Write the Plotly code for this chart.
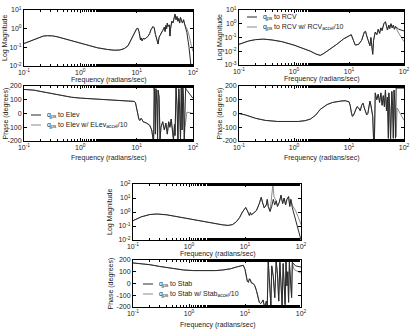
import plotly.graph_objects as go

W, H = 412, 335

# ---------------- data ----------------
# Elevator: magnitude
elev_mag_f = [0.1, 0.13, 0.17, 0.22, 0.26, 0.32, 0.4, 0.5, 0.7, 1.0, 1.5, 2.0, 3.0, 4.0, 5.0, 6.0, 7.0, 8.0, 9.0, 10.0,
              10.5, 11.0, 11.7, 12.0, 12.5, 13, 14, 15, 16, 17, 18, 19.5, 20.5, 21.5, 23, 24, 25, 27, 29, 31, 32, 33,
              34, 35, 36, 38, 39, 40, 42, 44, 46, 48, 50, 52, 54, 56, 58, 60, 62, 65, 68, 72]
elev_mag = [0.16, 0.22, 0.32, 0.40, 0.42, 0.41, 0.36, 0.30, 0.22, 0.16, 0.12, 0.095, 0.077, 0.07, 0.072, 0.085, 0.12,
            0.25, 0.55, 1.0, 1.05, 0.7, 0.25, 0.32, 0.22, 0.30, 0.28, 0.33, 0.40, 0.55, 0.90, 1.3, 1.1, 0.5, 0.18,
            0.15, 0.35, 0.5, 0.8, 1.2, 0.7, 1.5, 1.0, 2.0, 1.3, 1.6, 0.4, 1.0, 2.5, 2.0, 3.5, 6.0, 3.0, 4.5, 2.5,
            3.5, 2.0, 4.0, 3.0, 2.0, 3.0, 1.5]
elev_mag_tail1_f = [78, 85, 92]
elev_mag_tail1 = [0.6, 0.1, 0.01]
elev_mag_tail2_f = [78, 85, 92, 100]
elev_mag_tail2 = [1.0, 0.45, 0.15, 0.06]

# Elevator: phase
elev_ph_f = [0.1, 0.15, 0.2, 0.3, 0.5, 0.7, 1.0, 2.0, 4.0, 7.0, 9.0, 9.5, 10.0, 10.5, 11.0, 11.5, 12.0, 12.5, 13, 14,
             15, 17, 18.5, 19.5, 20, 20.5, 21, 21.5, 22, 23, 23.5, 24, 25, 26, 27, 29, 31, 33, 35, 37, 39, 41, 43,
             45, 47, 48, 50, 52, 54, 56, 58, 60, 62, 64, 66, 68, 70]
elev_ph = [175, 170, 160, 145, 128, 118, 112, 104, 98, 92, 88, 80, 40, -20, -45, -50, -35, -45, -60, -65, -70, -85,
           -120, -185, -195, 185, 120, -150, 180, 60, -195, 170, 120, -190, -100, -60, -120, -70, -150, -60, -100,
           -40, -130, -190, -80, -160, 190, 60, -190, 180, 40, -190, 185, -120, 190, 100, -190]
elev_ph_tail1_f = [74, 76, 100]
elev_ph_tail1 = [185, 175, 110]
elev_ph_tail2_f = [72, 78, 100]
elev_ph_tail2 = [-100, 10, 0]

# RCV: magnitude
rcv_mag_f = [0.1, 0.15, 0.2, 0.28, 0.4, 0.6, 1.0, 1.5, 2.0, 2.5, 3.0, 3.5, 4.5, 6, 8, 10, 11, 12, 13, 15, 17, 19, 20,
             21, 23, 24, 25, 26, 27, 28, 30, 32, 34, 36, 38, 40, 43, 46, 48, 50, 53, 55, 58, 61, 64, 67, 70]
rcv_mag = [0.032, 0.056, 0.07, 0.076, 0.066, 0.05, 0.028, 0.016, 0.01, 0.0063, 0.005, 0.007, 0.014, 0.032, 0.08,
           0.14, 0.16, 0.063, 0.028, 0.032, 0.063, 0.25, 0.28, 0.13, 0.04, 0.025, 0.1, 0.032, 0.006, 0.063, 0.25,
           0.16, 0.4, 0.2, 0.5, 0.32, 1.0, 1.4, 0.63, 0.35, 0.8, 0.45, 1.0, 0.5, 0.8, 0.4, 0.63]
rcv_mag_tail1_f = [80, 100]
rcv_mag_tail1 = [0.4, 0.3]
rcv_mag_tail2_f = [80, 90, 100]
rcv_mag_tail2 = [0.2, 0.1, 0.05]

# RCV: phase
rcv_ph_f = [0.1, 0.13, 0.2, 0.3, 0.5, 0.8, 1.2, 1.6, 2.0, 2.5, 3.0, 4.0, 5.0, 7.0, 8.5, 10, 10.5, 11, 11.5, 12, 13, 14,
            15, 16, 17, 18, 19, 20, 21, 22, 23, 24, 25, 26, 27, 28, 29, 30, 32, 34, 36, 38, 40, 42, 44, 46, 48, 50,
            52, 53, 55, 57, 58, 60, 62, 64, 66, 68]
rcv_ph = [0, -10, -35, -50, -58, -60, -58, -52, -40, -10, 30, 65, 80, 90, 93, 85, 60, 10, -20, -15, 20, 50, 40, 20,
          60, 75, 40, 10, -10, 0, 50, 90, 60, 20, -20, -190, -185, 150, 100, 140, 80, 150, 60, 130, 50, 170, 20, 120,
          -180, 150, 40, -185, 100, 160, 60, -180, 170, 80]
rcv_ph_tail1_f = [70, 72, 100]
rcv_ph_tail1 = [-180, 185, 185]
rcv_ph_tail2_f = [72, 75, 100]
rcv_ph_tail2 = [-170, 40, -50]

# Stabilator: magnitude
stab_mag_f = [0.1, 0.14, 0.2, 0.27, 0.4, 0.6, 1.0, 1.5, 2.5, 4.0, 5.0, 6.0, 7.0, 8.0, 9.0, 10.3, 11.0, 12.0, 12.5, 13,
              14, 16, 18, 19.5, 20.5, 22, 24, 25, 26, 28]
stab_mag = [0.24, 0.45, 0.66, 0.72, 0.63, 0.47, 0.32, 0.22, 0.15, 0.12, 0.11, 0.126, 0.2, 0.4, 1.0, 2.1, 1.26, 0.56,
            0.9, 0.63, 0.8, 1.26, 4.0, 11.2, 5.0, 2.0, 3.2, 8, 2.5, 1.1]
stab_mag_mid1_f = [30, 32, 34, 36, 38, 41, 44, 47, 50, 53, 56, 60, 63, 66, 70]
stab_mag_mid1 = [2.5, 8, 3.2, 6.3, 2.5, 5, 16, 4, 10, 3.2, 8, 12.6, 2.5, 8, 2]
stab_mag_mid2_f = [29, 31.5, 33, 36, 38, 41, 44, 47, 50, 53, 56, 60, 63, 66, 70]
stab_mag_mid2 = [4, 95, 12, 6.3, 2.5, 5, 16, 4, 10, 3.2, 8, 12.6, 2.5, 8, 3]
stab_mag_tail1_f = [80, 90, 100]
stab_mag_tail1 = [0.25, 0.063, 0.01]
stab_mag_tail2_f = [80, 90, 100]
stab_mag_tail2 = [1.26, 0.4, 0.126]

# Stabilator: phase
stab_ph_f = [0.1, 0.15, 0.2, 0.3, 0.5, 0.8, 1.2, 2.0, 3.0, 4.0, 5.5, 7.0, 8.5, 9.3, 10.0, 10.5, 11.0, 11.5, 12.0, 12.5,
             13, 14, 15, 16, 17, 18, 19, 20, 21, 22, 23, 24, 25, 26, 27, 28, 29, 30, 32, 34, 36, 38, 40, 42, 44, 46,
             48, 50, 52, 54, 56, 58, 60, 62, 65, 68, 70]
stab_ph = [175, 170, 160, 145, 128, 115, 110, 108, 110, 115, 125, 140, 150, 155, 120, 60, 20, 10, 40, 30, 5, 0, -20,
           -60, -120, -160, -170, -160, -140, -185, -190, -150, -190, 190, 60, -80, -190, 150, 60, -120, 190, 80,
           -150, 180, -50, -190, 170, 40, -180, 185, -20, 100, -160, 180, 50, -120, 180]
stab_ph_tail1_f = [80, 100]
stab_ph_tail1 = [150, 140]
stab_ph_tail2_f = [75, 100]
stab_ph_tail2 = [120, 88]

freq_ticks = [0.1, 1, 10, 100]
freq_ticktext = ["10<sup>-1</sup>", "10<sup>0</sup>", "10<sup>1</sup>", "10<sup>2</sup>"]
mag_ticks_elev = [0.01, 0.1, 1, 10]
mag_text_elev = ["10<sup>-2</sup>", "10<sup>-1</sup>", "10<sup>0</sup>", "10<sup>1</sup>"]
mag_ticks_rcv = [0.001, 0.01, 0.1, 1, 10]
mag_text_rcv = ["10<sup>-3</sup>", "10<sup>-2</sup>", "10<sup>-1</sup>", "10<sup>0</sup>", "10<sup>1</sup>"]
mag_ticks_stab = [0.01, 0.1, 1, 10, 100]
mag_text_stab = ["10<sup>-2</sup>", "10<sup>-1</sup>", "10<sup>0</sup>", "10<sup>1</sup>", "10<sup>2</sup>"]
phase_ticks = [-200, -100, 0, 100, 200]

legend_elev = ["q<sub>ps</sub> to Elev", "q<sub>ps</sub> to Elev w/ ELev<sub>accel</sub>/10"]
legend_rcv = ["q<sub>ps</sub> to RCV", "q<sub>ps</sub> to RCV w/ RCV<sub>accel</sub>/10"]
legend_stab = ["q<sub>ps</sub> to Stab", "q<sub>ps</sub> to Stab w/ Stab<sub>accel</sub>/10"]

C1 = "#2a2a2a"
C2 = "#8a8a8a"
FONT = "Liberation Sans, Arial, sans-serif"

fig = go.Figure()


def add_pair(ax, f, v, f1, v1, f2, v2, mf1=None, mv1=None, mf2=None, mv2=None):
    mf1 = mf1 or []
    mv1 = mv1 or []
    mf2 = mf2 or []
    mv2 = mv2 or []
    xa = "x" if ax == 1 else "x%d" % ax
    ya = "y" if ax == 1 else "y%d" % ax
    fig.add_trace(go.Scatter(x=f + mf2 + f2, y=v + mv2 + v2, mode="lines", xaxis=xa, yaxis=ya,
                             line=dict(color=C2, width=1), showlegend=False))
    fig.add_trace(go.Scatter(x=f + mf1 + f1, y=v + mv1 + v1, mode="lines", xaxis=xa, yaxis=ya,
                             line=dict(color=C1, width=1), showlegend=False))


add_pair(1, elev_mag_f, elev_mag, elev_mag_tail1_f, elev_mag_tail1, elev_mag_tail2_f, elev_mag_tail2)
add_pair(2, elev_ph_f, elev_ph, elev_ph_tail1_f, elev_ph_tail1, elev_ph_tail2_f, elev_ph_tail2)
add_pair(3, rcv_mag_f, rcv_mag, rcv_mag_tail1_f, rcv_mag_tail1, rcv_mag_tail2_f, rcv_mag_tail2)
add_pair(4, rcv_ph_f, rcv_ph, rcv_ph_tail1_f, rcv_ph_tail1, rcv_ph_tail2_f, rcv_ph_tail2)
add_pair(5, stab_mag_f, stab_mag, stab_mag_tail1_f, stab_mag_tail1, stab_mag_tail2_f, stab_mag_tail2,
         stab_mag_mid1_f, stab_mag_mid1, stab_mag_mid2_f, stab_mag_mid2)
add_pair(6, stab_ph_f, stab_ph, stab_ph_tail1_f, stab_ph_tail1, stab_ph_tail2_f, stab_ph_tail2)


def px_x(a, b):
    return [a / W, b / W]


def px_y(top, bottom):
    return [1 - bottom / H, 1 - top / H]


boxes = {
    1: (24, 193, 10, 66),
    2: (24, 193, 86, 141),
    3: (239, 404, 10, 65),
    4: (239, 404, 86, 141),
    5: (133, 301, 184, 240),
    6: (133, 301, 260, 307),
}

tickfont = dict(family=FONT, size=7, color="#222")
common = dict(showline=True, linecolor="black", linewidth=1, mirror="ticks", ticks="inside", ticklen=3,
              tickcolor="black", showgrid=False, zeroline=False, automargin=False, tickfont=tickfont)

layout = dict(width=W, height=H, margin=dict(l=0, r=0, t=0, b=0), paper_bgcolor="white",
              plot_bgcolor="white", showlegend=False)

ylog = {1: (mag_ticks_elev, mag_text_elev, [-2, 1]),
        3: (mag_ticks_rcv, mag_text_rcv, [-3, 1]),
        5: (mag_ticks_stab, mag_text_stab, [-2, 2])}

for i, (x0, x1, y0, y1) in boxes.items():
    xk = "xaxis" if i == 1 else "xaxis%d" % i
    yk = "yaxis" if i == 1 else "yaxis%d" % i
    anchor_y = "y" if i == 1 else "y%d" % i
    anchor_x = "x" if i == 1 else "x%d" % i
    layout[xk] = dict(domain=px_x(x0, x1), anchor=anchor_y, type="log", range=[-1, 2],
                      tickvals=freq_ticks, ticktext=freq_ticktext,
                      minor=dict(ticks="inside", ticklen=2, tickcolor="black"), **common)
    if i in ylog:
        tv, tt, rg = ylog[i]
        layout[yk] = dict(domain=px_y(y0, y1), anchor=anchor_x, type="log", range=rg,
                          tickvals=tv, ticktext=tt, **common)
    else:
        layout[yk] = dict(domain=px_y(y0, y1), anchor=anchor_x, range=[-200, 200],
                          tickvals=phase_ticks, ticktext=[str(t) for t in phase_ticks], **common)

fig.update_layout(**layout)

titlefont = dict(family=FONT, size=7, color="#222")
annos = []
# x titles
xtitle_off = {1: 14, 2: 17, 3: 14, 4: 17, 5: 14, 6: 18}
for i, (x0, x1, y0, y1) in boxes.items():
    annos.append(dict(text="Frequency (radians/sec)", x=(x0 + x1) / 2 / W, y=1 - (y1 + xtitle_off[i]) / H,
                      xref="paper", yref="paper", showarrow=False, font=titlefont,
                      xanchor="center", yanchor="middle"))
# y titles
ytitle_x = {1: 5, 2: 5, 3: 219, 4: 219, 5: 110, 6: 110}
for i, (x0, x1, y0, y1) in boxes.items():
    t = "Log Magnitude" if i in (1, 3, 5) else "Phase (degrees)"
    annos.append(dict(text=t, x=ytitle_x[i] / W, y=1 - (y0 + y1) / 2 / H, xref="paper", yref="paper",
                      showarrow=False, font=titlefont, textangle=-90, xanchor="center", yanchor="middle"))

shapes = []


def legend(entries, x_line, y_first, dy=10):
    for k, txt in enumerate(entries):
        yy = y_first + k * dy
        shapes.append(dict(type="line", xref="paper", yref="paper", x0=x_line / W, x1=(x_line + 10) / W,
                           y0=1 - yy / H, y1=1 - yy / H, line=dict(color=C1 if k == 0 else C2, width=1)))
        annos.append(dict(text=txt, x=(x_line + 14) / W, y=1 - yy / H, xref="paper", yref="paper",
                          showarrow=False, font=titlefont, xanchor="left", yanchor="middle"))


legend(legend_elev, 31, 115)
legend(legend_rcv, 247, 17)
legend(legend_stab, 143, 284)

fig.update_layout(annotations=annos, shapes=shapes)
fig.write_html("out.html")
